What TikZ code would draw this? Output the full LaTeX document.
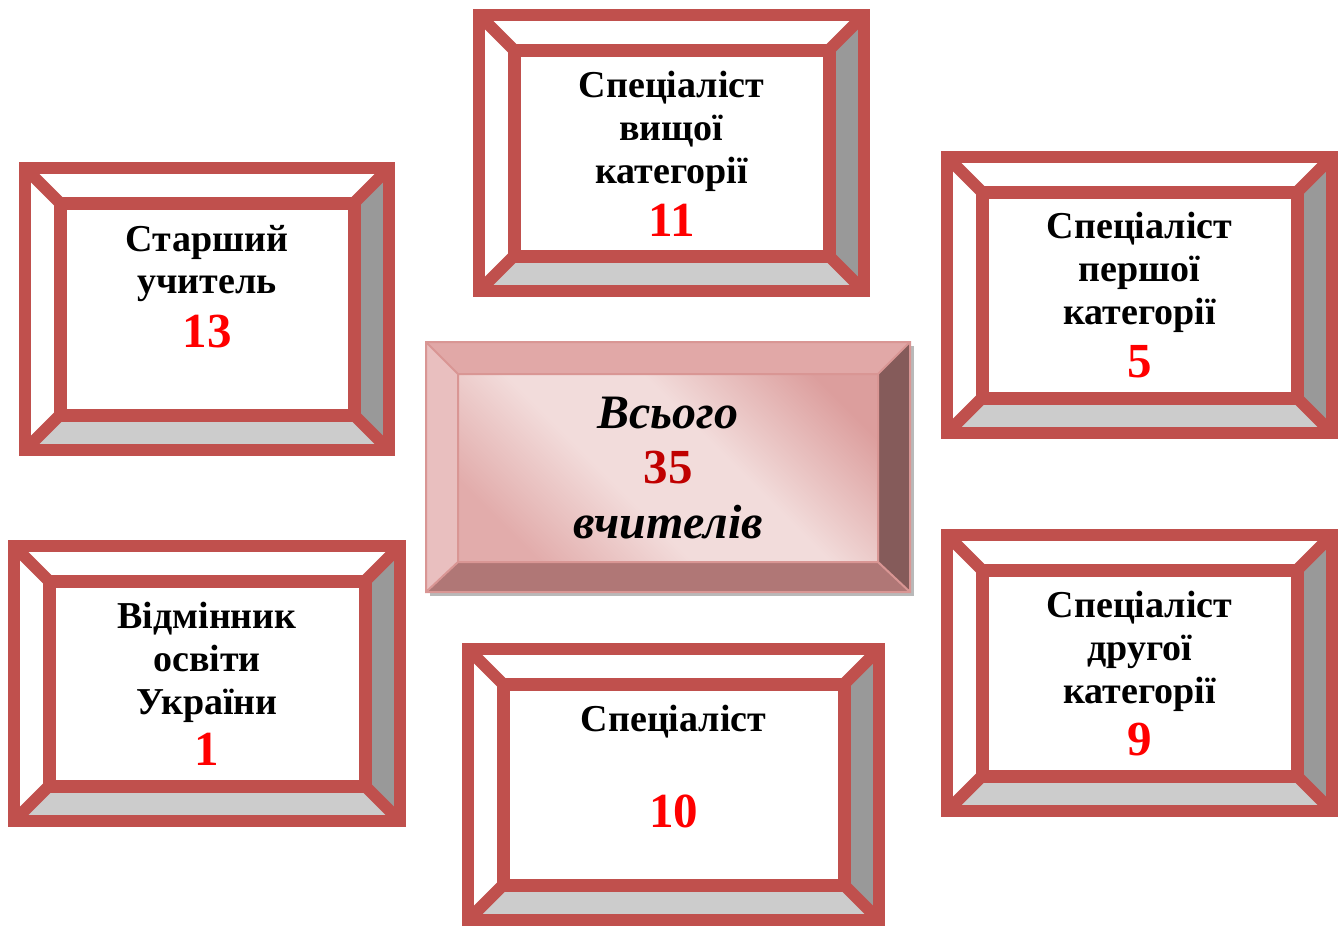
\documentclass[tikz,border=0pt]{standalone}
\usepackage{fontspec}
\setmainfont{Liberation Serif}
\usepackage{xcolor}
\usepackage{tikz}
\usetikzlibrary{calc}

\definecolor{rimred}{HTML}{C0504D}
\definecolor{sidegray}{HTML}{999999}
\definecolor{basegray}{HTML}{CCCCCC}
\definecolor{numred}{HTML}{FF0000}
\definecolor{boxtop}{HTML}{E1A8A7}
\definecolor{boxleft}{HTML}{E9BFBF}
\definecolor{boxright}{HTML}{855B5A}
\definecolor{boxbottom}{HTML}{B07776}
\definecolor{boxline}{HTML}{D99694}
\definecolor{boxlight}{HTML}{F2DCDB}
\definecolor{boxdark}{HTML}{DC9E9D}
\definecolor{boxmid}{HTML}{E2ACAB}
\definecolor{totalred}{HTML}{C00000}

\pgfdeclareverticalshading{facegrad}{100bp}{color(0bp)=(boxmid); color(24bp)=(boxmid);
  color(42bp)=(boxlight); color(58bp)=(boxlight); color(78bp)=(boxdark); color(100bp)=(boxdark)}

% bevelled frame: x1 y1 x2 y2 (outer edges)
\newcommand{\bevelframe}[4]{%
  \fill[sidegray] ({#3-6},{#2+6}) -- ({#3-6},{#4-6}) -- ({#3-41},{#4-41}) -- ({#3-41},{#2+41}) -- cycle;
  \fill[basegray] ({#1+6},{#4-6}) -- ({#3-6},{#4-6}) -- ({#3-41},{#4-41}) -- ({#1+41},{#4-41}) -- cycle;
  \draw[rim] ({#1+6},{#2+6}) rectangle ({#3-6},{#4-6});
  \draw[rim, line width=6.5pt] ({#1+41},{#2+41}) rectangle ({#3-41},{#4-41});
  \draw[rim] ({#1+6},{#2+6}) -- ({#1+41},{#2+41});
  \draw[rim] ({#3-6},{#2+6}) -- ({#3-41},{#2+41});
  \draw[rim] ({#1+6},{#4-6}) -- ({#1+41},{#4-41});
  \draw[rim] ({#3-6},{#4-6}) -- ({#3-41},{#4-41});
}

\begin{document}
\begin{tikzpicture}[x=0.5pt, y=-0.5pt,
    rim/.style={draw=rimred, line width=6pt, line join=miter},
    lbl/.style={anchor=base, inner sep=0pt, font=\bfseries\fontsize{19}{21.5}\selectfont},
    num/.style={lbl, text=numred, font=\bfseries\fontsize{24.5}{26}\selectfont},
    ctr/.style={anchor=base, inner sep=0pt, font=\bfseries\itshape\fontsize{24}{28}\selectfont}]
    \useasboundingbox (0,0) rectangle (1344,927);

    % Frames
    \foreach \xa/\ya/\xb/\yb in {473/9/870/297, 19/162/395/456, 941/151/1338/439,
                                 941/529/1338/817, 462/643/885/926, 8/540/406/827} {
        \bevelframe{\xa}{\ya}{\xb}{\yb}
    }

    % Labels
    \foreach \t [count=\i] in {Спеціаліст, вищої, категорії}
        \node[lbl] (vyshcha-\i) at (671.5, 97+43*\i-43) {\t};
    \node[num] (vyshcha-n) at (671.5, 236) {11};

    \foreach \t [count=\i] in {Старший, учитель}
        \node[lbl] (starshyi-\i) at (207, 251+42*\i-42) {\t};
    \node[num] (starshyi-n) at (207, 347) {13};

    \foreach \t [count=\i] in {Спеціаліст, першої, категорії}
        \node[lbl] (persha-\i) at (1139.5, 238+43*\i-43) {\t};
    \node[num] (persha-n) at (1139.5, 377) {5};

    \foreach \t [count=\i] in {Спеціаліст, другої, категорії}
        \node[lbl] (druha-\i) at (1139.5, 617+43*\i-43) {\t};
    \node[num] (druha-n) at (1139.5, 755) {9};

    \node[lbl] (spets-1) at (673.5, 731) {Спеціаліст};
    \node[num] (spets-n) at (673.5, 827) {10};

    \foreach \t [count=\i] in {Відмінник, освіти, України}
        \node[lbl] (vidminnyk-\i) at (207, 628+43*\i-43) {\t};
    \node[num] (vidminnyk-n) at (207, 765) {1};

    % Total
    \fill[gray!55] (430,346) rectangle (914,596);
    \fill[boxtop] (426,342) -- (910,342) -- (878,374) -- (458,374) -- cycle;
    \fill[boxleft] (426,342) -- (458,374) -- (458,562) -- (426,592) -- cycle;
    \fill[boxright] (910,342) -- (910,592) -- (878,562) -- (878,374) -- cycle;
    \fill[boxbottom] (426,592) -- (910,592) -- (878,562) -- (458,562) -- cycle;
    \shade[shading=facegrad, shading angle=-45] (458,374) rectangle (878,562);
    \draw[boxline, line width=1pt] (426,342) rectangle (910,592)
        (458,374) rectangle (878,562)
        (426,342) -- (458,374) (910,342) -- (878,374)
        (426,592) -- (458,562) (910,592) -- (878,562);
    \node[ctr] (total-a) at (668, 428) {Всього};
    \node[ctr, text=totalred, font=\bfseries\fontsize{24.5}{26}\selectfont] (total-n) at (668, 483) {35};
    \node[ctr] (total-b) at (668, 538) {вчителів};
\end{tikzpicture}
\end{document}
